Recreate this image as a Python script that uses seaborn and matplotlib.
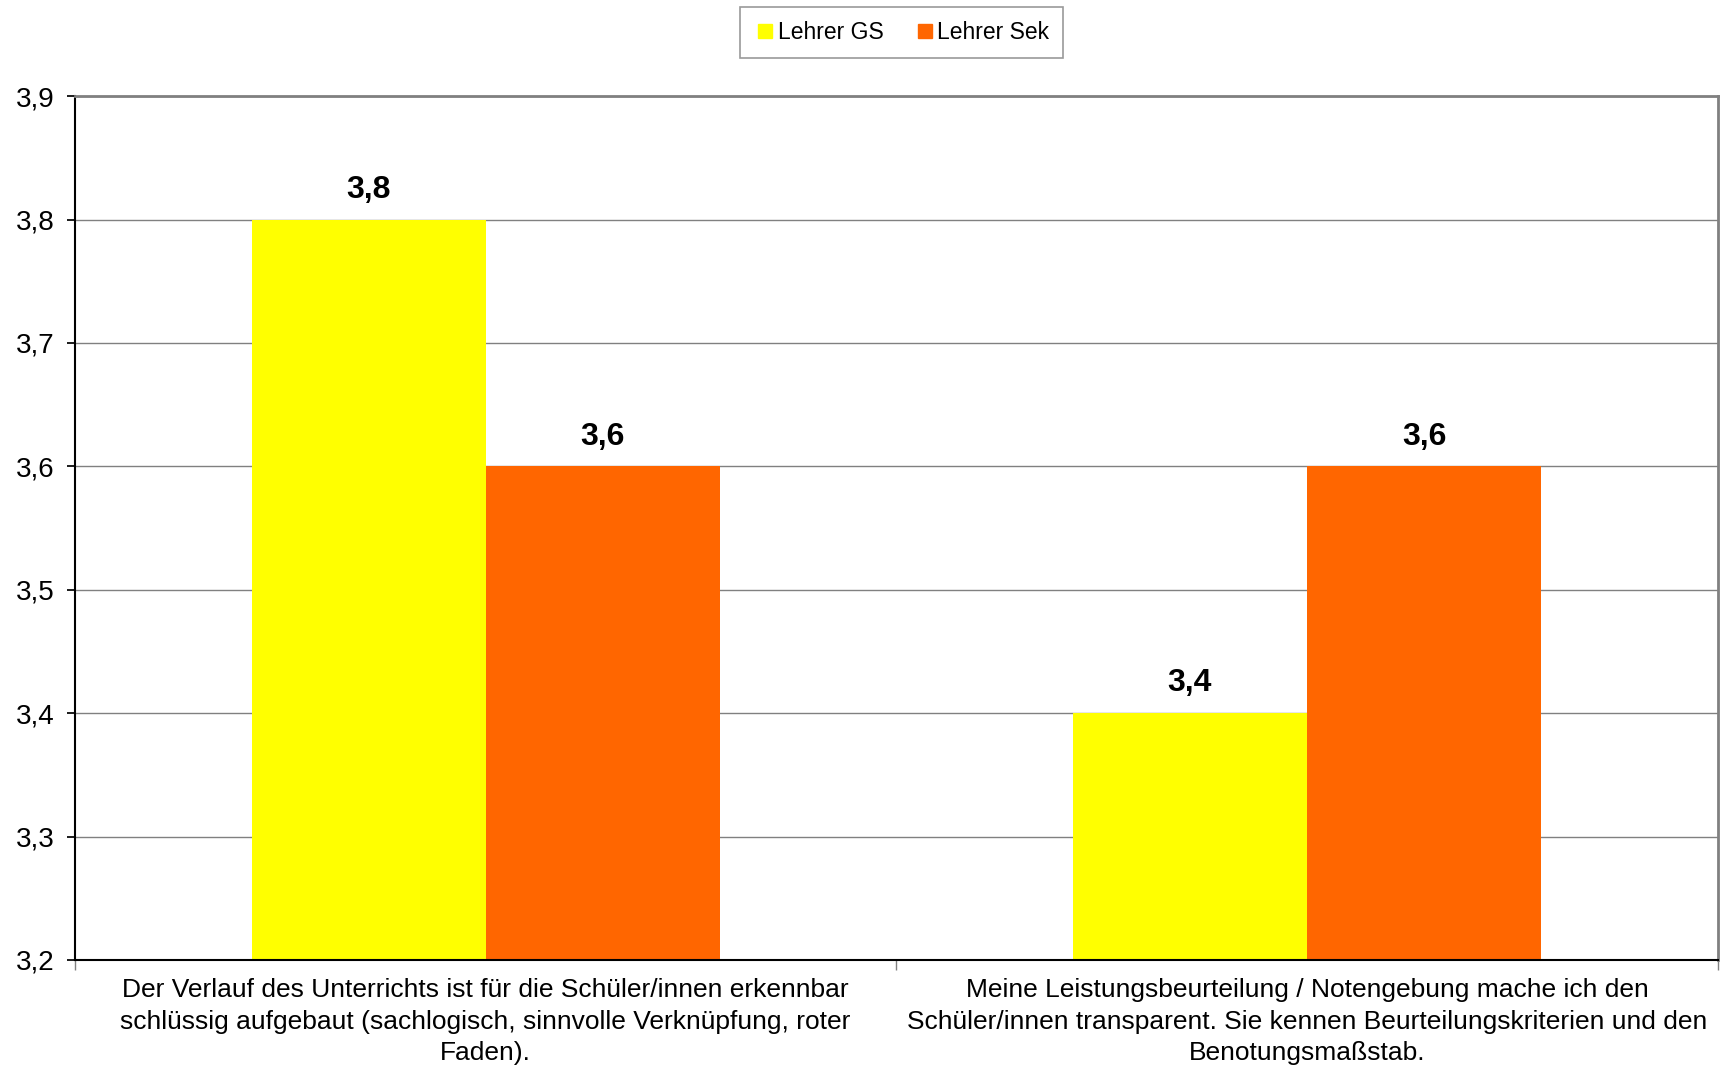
import matplotlib
matplotlib.use("Agg")
import matplotlib.pyplot as plt
import matplotlib.ticker as mticker
from matplotlib.lines import Line2D
import pandas as pd
import seaborn as sns

# Daten aus dem Diagramm
CATEGORIES = [
    "Der Verlauf des Unterrichts ist für die Schüler/innen erkennbar\n"
    "schlüssig aufgebaut (sachlogisch, sinnvolle Verknüpfung, roter\nFaden).",
    "Meine Leistungsbeurteilung / Notengebung mache ich den\n"
    "Schüler/innen transparent. Sie kennen Beurteilungskriterien und den\nBenotungsmaßstab.",
]
GROUPS = ["Lehrer GS", "Lehrer Sek"]
VALUES_GS = [3.8, 3.4]
VALUES_SEK = [3.6, 3.6]
COLORS = {"Lehrer GS": "#FFFF00", "Lehrer Sek": "#FF6600"}

df = pd.DataFrame({
    "Kategorie": CATEGORIES * 2,
    "Gruppe": [GROUPS[0]] * 2 + [GROUPS[1]] * 2,
    "Wert": VALUES_GS + VALUES_SEK,
})

sns.set_theme(style="white")
plt.rcParams["font.family"] = ["Liberation Sans", "DejaVu Sans"]
plt.rcParams["text.color"] = "black"
plt.rcParams["xtick.labelcolor"] = "black"
plt.rcParams["ytick.labelcolor"] = "black"

fig = plt.figure(figsize=(17.2, 10.69), dpi=100)
ax = fig.add_axes([0.0436, 0.102, 0.955, 0.808])

sns.barplot(data=df, x="Kategorie", y="Wert", hue="Gruppe", palette=COLORS,
            width=0.57, gap=0, saturation=1, ax=ax, legend=False,
            errorbar=None, order=CATEGORIES, hue_order=GROUPS, linewidth=0)

ax.set_ylim(3.2, 3.9)
ax.yaxis.set_major_locator(mticker.MultipleLocator(0.1))
ax.yaxis.set_major_formatter(mticker.FuncFormatter(lambda v, _: f"{v:.1f}".replace(".", ",")))
ax.grid(axis="y", color="#808080", linewidth=1)
ax.set_axisbelow(True)
ax.set_xlim(-0.5, 1.5)
ax.set_xlabel("")
ax.set_ylabel("")

# Balken-Beschriftungen
for cont in ax.containers:
    for bar in cont:
        h = bar.get_height()
        ax.text(bar.get_x() + bar.get_width() / 2, h + 0.012,
                f"{h:.1f}".replace(".", ","), ha="center", va="bottom",
                fontsize=23, fontweight="bold", color="black")

ax.set_xticks(range(len(CATEGORIES)), CATEGORIES, linespacing=1.4)
ax.tick_params(axis="y", labelsize=20, length=6, direction="out", left=True,
               color="black", pad=9)
ax.tick_params(axis="x", which="major", labelsize=19, length=0, pad=13)
ax.xaxis.set_minor_locator(mticker.FixedLocator([-0.5, 0.5, 1.5]))
ax.tick_params(axis="x", which="minor", length=7, direction="out", bottom=True, color="#808080")

for side in ["left", "bottom"]:
    ax.spines[side].set_color("black")
    ax.spines[side].set_linewidth(1.5)
for side in ["top", "right"]:
    ax.spines[side].set_color("#808080")
    ax.spines[side].set_linewidth(2)

handles = [Line2D([], [], marker="s", linestyle="none", markersize=10,
                  markerfacecolor=COLORS[g], markeredgecolor=COLORS[g]) for g in GROUPS]
leg = fig.legend(handles, GROUPS, loc="upper center", bbox_to_anchor=(0.524, 0.993),
                 ncol=2, fontsize=16.5, frameon=True, fancybox=False,
                 handletextpad=0.05, columnspacing=1.3, borderpad=0.6,
                 handlelength=1.0, borderaxespad=0)
leg.get_frame().set_edgecolor("#808080")
leg.get_frame().set_linewidth(1.2)

fig.savefig("out.png", dpi=100)
